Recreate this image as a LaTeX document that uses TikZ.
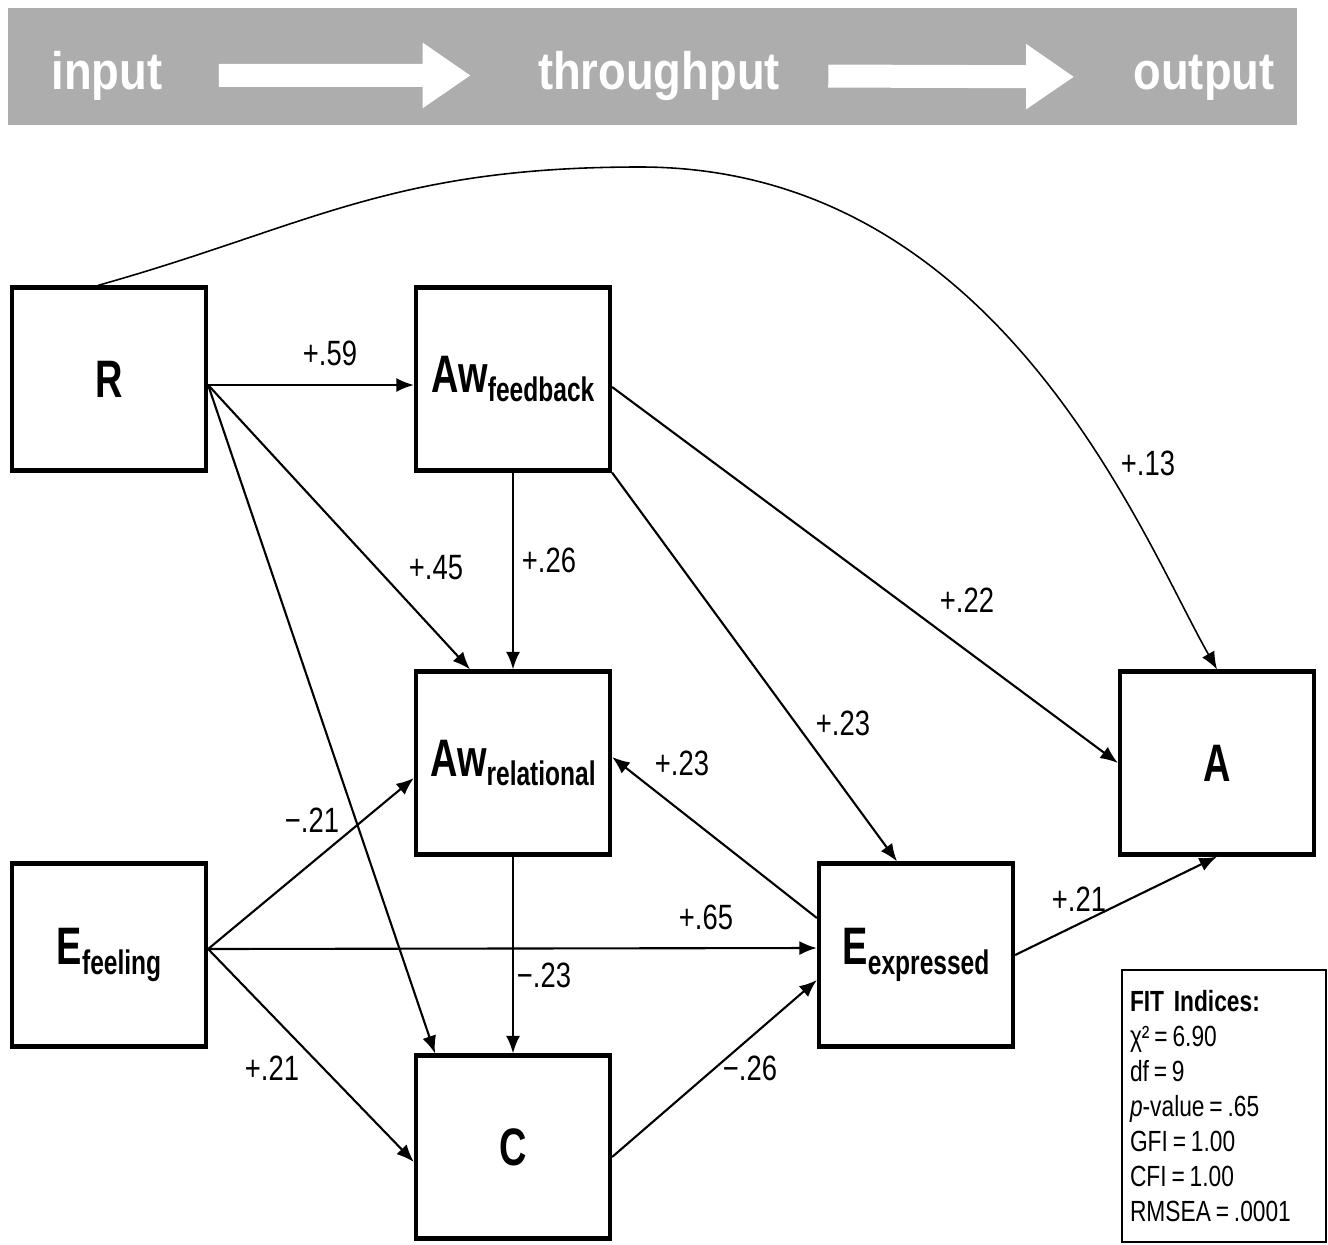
\documentclass[tikz,border=0pt]{standalone}
\usepackage{fontspec}
\setmainfont{Liberation Sans}
\newfontfamily\narrowfont{Liberation Sans}[FakeStretch=0.78]
\newfontfamily\boxfont{Liberation Sans}[FakeStretch=0.72]
\newfontfamily\bannerfont{Liberation Sans}[FakeStretch=0.86]
\usepackage{tikz}
\usetikzlibrary{arrows.meta}
\definecolor{bannergray}{RGB}{173,173,173}
\tikzstyle{construct} = [rectangle, draw=black, line width=1.2pt, minimum width=1.94cm, minimum height=1.83cm, inner sep=0pt, font=\boxfont\bfseries\fontsize{15}{15}\selectfont]
\tikzstyle{anno} = [font=\narrowfont\fontsize{10}{11}\selectfont, inner sep=1pt]
\tikzstyle{banner} = [font=\bannerfont\bfseries\fontsize{15}{16}\selectfont, text=white, anchor=base]
\tikzstyle{fitbox} = [rectangle, draw=black, line width=0.6pt, minimum width=2.04cm, minimum height=2.72cm, text width=1.88cm, inner xsep=0.08cm, align=left, font=\narrowfont\fontsize{8.3}{10}\selectfont]
\tikzstyle{arrow} = [line width=0.6pt, -{Latex[length=5pt,width=4pt]}]
\tikzstyle{bigarrow} = [line width=0.23cm, white, -{Triangle[length=0.48cm,width=0.62cm]}]
\newcommand{\varsub}[1]{\raisebox{-2.8pt}{\fontsize{9.7}{10}\selectfont #1}}

\begin{document}
\begin{tikzpicture}
\useasboundingbox (0,0) rectangle (13.28,-12.44);
\fill[bannergray] (0.08,-0.08) rectangle (12.97,-1.25);
  \node (input) [banner] at (1.07,-0.89) {input};
  \node (through) [banner] at (6.59,-0.89) {throughput};
  \node (output) [banner] at (12.04,-0.89) {output};
\draw[bigarrow, shorten <=0.44cm, shorten >=0.55cm] (input) -- (through);
\draw[bigarrow, shorten <=0.36cm, shorten >=0.47cm] (through) -- (output);

  \node (R) [construct] at (1.09,-3.79) {R};
  \node (awFeed) [construct, right of=R, xshift=3.04cm] {Aw\varsub{feedback}};
  \node (awRel) [construct, below of=awFeed, yshift=-2.84cm] {Aw\varsub{relational}};
  \node (eFeel) [construct, below of=R, yshift=-4.76cm] {E\varsub{feeling}};
  \node (C) [construct, below of=awRel, yshift=-2.84cm] {C};
  \node (eExpr) [construct, right of=eFeel, xshift=7.07cm] {E\varsub{expressed}};
  \node (A) [construct, right of=awRel, xshift=6.04cm] {A};
  \node (fit) [fitbox] at (12.24,-11.06) {{\bfseries FIT Indices:}\\
χ²\,=\,6.90\\
df\,=\,9\\
\textit{p}-value\,=\,.65\\
GFI\,=\,1.00\\
CFI\,=\,1.00\\
RMSEA\,=\,.0001};

  \draw[arrow] ([yshift=-0.06cm]R.east) -- ([yshift=-0.06cm]awFeed.west);
  \draw[arrow] ([yshift=-0.06cm]R.east) -- ([xshift=-0.43cm]awRel.north);
  \draw[arrow] ([yshift=-0.06cm]R.east) -- ([xshift=-0.78cm]C.north);
  \draw[arrow] (awFeed) -- (awRel);
  \draw[arrow] ([yshift=-0.08cm]awFeed.east) -- (A.west);
  \draw[arrow] (awFeed.south east) -- ([xshift=-0.19cm]eExpr.north);
  \draw[arrow, line width=0.45pt] ([xshift=-0.11cm]R.north) .. controls (3.09,-2.26) and (3.90,-1.67) .. (6.40,-1.67)
    .. controls (10.00,-1.67) and (11.42,-5.38) .. (A.north);
  \draw[arrow] ([yshift=0.06cm]eFeel.east) -- ([yshift=-0.15cm]awRel.west);
  \draw[arrow] ([yshift=0.06cm]eFeel.east) -- ([yshift=0.07cm]eExpr.west);
  \draw[arrow] ([yshift=0.06cm]eFeel.east) -- ([yshift=-0.15cm]C.west);
  \draw[arrow] (awRel) -- (C);
  \draw[arrow] ([yshift=0.37cm]eExpr.west) -- ([yshift=0.06cm]awRel.east);
  \draw[arrow] ([yshift=-0.1cm]C.east) -- ([yshift=-0.25cm]eExpr.west);
  \draw[arrow] (eExpr.east) -- (A.south);

  \node (w59) [anno] at (3.30,-3.53) {+.59};
  \node (w45) [anno] at (4.36,-5.68) {+.45};
  \node (w26) [anno] at (5.49,-5.60) {+.26};
  \node (w13) [anno] at (11.48,-4.63) {+.13};
  \node (w22) [anno] at (9.67,-6.00) {+.22};
  \node (w23a) [anno] at (8.43,-7.23) {+.23};
  \node (w23b) [anno] at (6.82,-7.63) {+.23};
  \node (w21a) [anno] at (3.12,-8.20) {−.21};
  \node (w65) [anno] at (7.06,-9.17) {+.65};
  \node (w23c) [anno] at (5.44,-9.75) {−.23};
  \node (w21b) [anno] at (2.72,-10.68) {+.21};
  \node (w26b) [anno] at (7.50,-10.68) {−.26};
  \node (w21c) [anno] at (10.79,-8.99) {+.21};
\end{tikzpicture}
\end{document}
